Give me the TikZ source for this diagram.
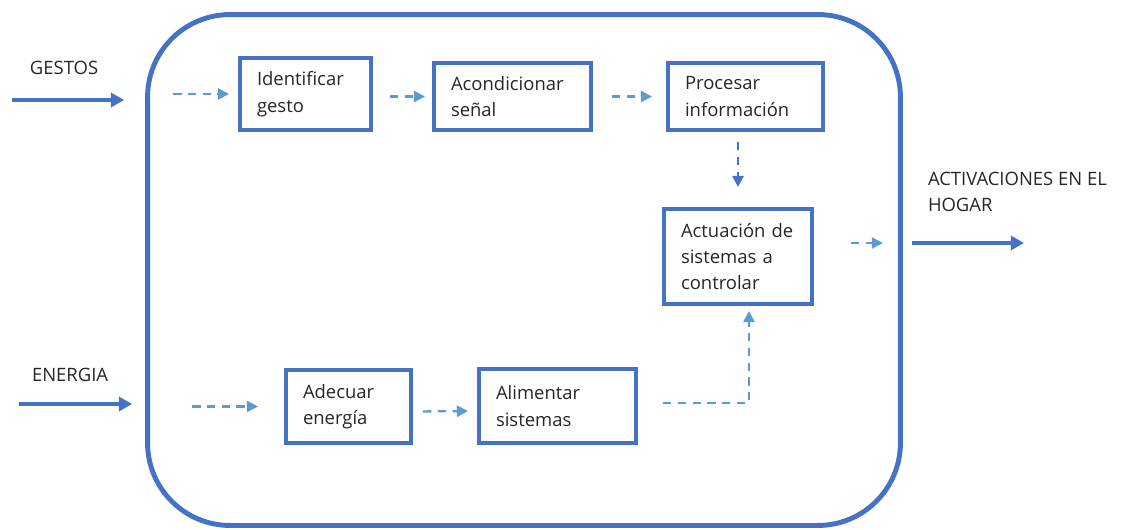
\documentclass[tikz,border=0pt]{standalone}
\usepackage{fontspec}
\setmainfont{Open Sans}
\usepackage{xcolor}
\usetikzlibrary{arrows.meta}
\definecolor{azul}{HTML}{4472C4}
\definecolor{celeste}{HTML}{5B9BD5}
\definecolor{texto}{HTML}{262626}

\begin{document}
\begin{tikzpicture}[x=0.02cm,y=-0.02cm,
every node/.style={font=\fontsize{10.5}{15}\selectfont, text=texto, outer sep=0pt},
bloque/.style={draw=azul, line width=2.3pt, rectangle, align=left, inner xsep=0.34cm},
entrada/.style={draw=azul, line width=2.5pt, -{Triangle[length=7.5pt,width=8pt]}},
flujo/.style={draw=celeste, line width=1.3pt, dash pattern=on 4.8pt off 3.6pt, -{Triangle[length=6.3pt,width=6.3pt]}}]

\useasboundingbox (0,0) rectangle (1130,529);

\node[draw=azul, line width=2.8pt, rounded corners=1.65cm, minimum width=15.06cm, minimum height=10.22cm] (sistema) at (524,270) {};

\node[bloque, text width=1.94cm, minimum height=1.44cm] (ident) at (305.5,94) {Identificar\\gesto};
\node[bloque, text width=2.46cm, minimum height=1.34cm] (acond) at (512.5,96.5) {Acondicionar\\señal};
\node[bloque, text width=2.42cm, minimum height=1.34cm] (proc) at (745.5,96.5) {Procesar\\información};
\node[bloque, text width=2.28cm, minimum height=1.9cm] (actu) at (738,256.5) {Actuación de\\sistemas a\\controlar};
\node[bloque, text width=1.82cm, minimum height=1.46cm] (adec) at (348.5,406.5) {Adecuar\\energía};
\node[bloque, text width=2.46cm, minimum height=1.48cm] (alim) at (557.5,406) {Alimentar\\sistemas};

\node[anchor=base west, inner sep=0] (gestos) at (30,74) {GESTOS};
\node[anchor=base west, inner sep=0] (energia) at (32,381) {ENERGIA};
\node[anchor=north west, inner sep=0, align=left] (activ) at (928,172) {ACTIVACIONES EN EL\\HOGAR};

\coordinate (gestos-in) at (12,100);
\coordinate (energia-in) at (19,404);
\coordinate (salida) at (1024,243);

\draw[entrada, shorten >=0.47cm] (gestos-in) -- (gestos-in -| sistema.west);
\draw[entrada, shorten >=0.31cm] (energia-in) -- (energia-in -| sistema.west);
\draw[entrada, shorten <=0.23cm] (salida -| sistema.east) -- (salida);

\draw[flujo, shorten <=0.51cm, shorten >=0.22cm] (ident.west -| sistema.west) -- (ident.west);
\draw[flujo, shorten <=0.38cm, shorten >=0.18cm] (ident.east |- acond.west) -- (acond.west);
\draw[flujo, shorten <=0.42cm, shorten >=0.32cm] (acond.east |- proc.west) -- (proc.west);
\draw[flujo, draw=azul, shorten <=0.24cm, shorten >=0.44cm] (proc.south -| actu.north) -- (actu.north);
\draw[flujo, shorten <=0.78cm, shorten >=0.35cm] (actu.east |- salida) -- (salida -| sistema.east);
\draw[flujo, shorten <=0.89cm, shorten >=0.56cm] (adec.west -| sistema.west) -- (adec.west);
\draw[flujo, shorten <=0.24cm, shorten >=0.22cm] ([yshift=-0.1cm]adec.east) -- ([yshift=-0.1cm]alim.west);
\draw[flujo, shorten <=0.54cm, shorten >=0.14cm] ([yshift=0.06cm]alim.east) -| ([xshift=0.22cm]actu.south);

\end{tikzpicture}
\end{document}
